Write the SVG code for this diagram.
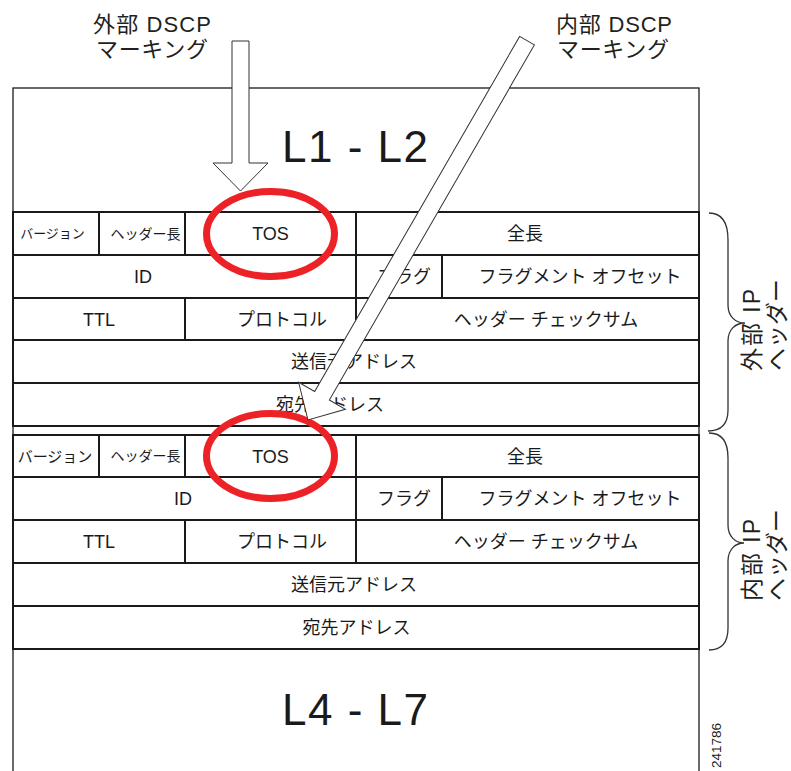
<svg xmlns="http://www.w3.org/2000/svg" width="791" height="771" viewBox="0 0 791 771">
<style>
text{font-family:"Liberation Sans","Noto Sans CJK JP",sans-serif;fill:#1a1a1a}
.c{text-anchor:middle;font-size:18px}
.s13{text-anchor:middle;font-size:13px}
.s14{text-anchor:middle;font-size:14px}
.s15{text-anchor:middle;font-size:15px}
.big{text-anchor:middle;font-size:44px}
.lbl{text-anchor:middle;font-size:22px;fill:#231f20}
.rot{font-size:23px;fill:#231f20}
.tbl{fill:none;stroke:#1a1a1a;stroke-width:2}
.box{fill:none;stroke:#1a1a1a;stroke-width:1.3}
.ring{fill:none;stroke:#ec2227;stroke-width:7}
.arrow{fill:#fff;stroke:#333;stroke-width:1}
.brace{fill:none;stroke:#333;stroke-width:1.3}
</style>

<g id="frame">
<rect class="box" x="13" y="88" width="686" height="700"/>
</g>

<g id="l1-l2">
<text class="big" x="355" y="162" textLength="146" lengthAdjust="spacing">L1 - L2</text>
</g>

<g id="outer-ip-header">
<rect class="tbl" x="13" y="212" width="686" height="214"/>
<path class="tbl" d="M13,255H699M13,298H699M13,340H699M13,383H699M99,212V255M185,212V255M356,212V298M442,255V298M185,298V340M356,298V340"/>
<text class="s13" x="52.5" y="238">バージョン</text>
<text class="s14" x="145.5" y="238.5">ヘッダー長</text>
<text class="c" x="270.5" y="240">TOS</text>
<text class="c" x="525" y="240">全長</text>
<text class="c" x="143" y="283">ID</text>
<text class="c" x="404" y="283">フラグ</text>
<text class="c" x="580" y="283">フラグメント オフセット</text>
<text class="c" x="99" y="325.5">TTL</text>
<text class="c" x="282" y="325.5">プロトコル</text>
<text class="c" x="546" y="325.5">ヘッダー チェックサム</text>
<text class="c" x="354" y="368">送信元アドレス</text>
<text class="c" x="330" y="411">宛先アドレス</text>
</g>

<g id="inner-ip-header">
<rect class="tbl" x="13" y="435" width="686" height="214"/>
<path class="tbl" d="M13,477H699M13,520H699M13,563H699M13,606H699M99,435V477M185,435V477M356,435V520M442,477V520M185,520V563M356,520V563"/>
<text class="s15" x="55" y="461.5">バージョン</text>
<text class="s14" x="145.5" y="461">ヘッダー長</text>
<text class="c" x="270.5" y="462.5">TOS</text>
<text class="c" x="525" y="462.5">全長</text>
<text class="c" x="183" y="505">ID</text>
<text class="c" x="404" y="505">フラグ</text>
<text class="c" x="580" y="505">フラグメント オフセット</text>
<text class="c" x="99" y="548">TTL</text>
<text class="c" x="282" y="548">プロトコル</text>
<text class="c" x="546" y="548">ヘッダー チェックサム</text>
<text class="c" x="354" y="591">送信元アドレス</text>
<text class="c" x="356.5" y="634">宛先アドレス</text>
</g>

<g id="l4-l7">
<text class="big" x="355" y="725" textLength="146" lengthAdjust="spacing">L4 - L7</text>
</g>

<g id="tos-highlights">
<ellipse class="ring" cx="270.5" cy="234" rx="64" ry="42.5"/>
<ellipse class="ring" cx="270.5" cy="456" rx="64" ry="42.5"/>
</g>

<g id="outer-dscp-label">
<text class="lbl" x="152" y="32" textLength="118" lengthAdjust="spacing">外部 DSCP</text>
<text class="lbl" x="152" y="57" textLength="112" lengthAdjust="spacing">マーキング</text>
</g>

<g id="inner-dscp-label">
<text class="lbl" x="614" y="32" textLength="116" lengthAdjust="spacing">内部 DSCP</text>
<text class="lbl" x="613" y="57" textLength="112" lengthAdjust="spacing">マーキング</text>
</g>

<g id="connectors">
<polygon class="arrow" points="232,41 249,41 249,163 268,163 240.5,191 213,163 232,163"/>
<polygon class="arrow" transform="translate(308,420) rotate(30)" points="-8.5,-438 8.5,-438 8.5,-28 27,-28 0,0 -27,-28 -8.5,-28"/>
<path class="brace" d="M709,213C722,213 728,222 728,240L728,305C728,316 735,323 745,323C735,323 728,330 728,341L728,410C728,424 722,431 708,431"/>
<path class="brace" d="M709,433C722,433 728,441 728,458L728,525C728,536 735,543 744,543C735,543 728,550 728,561L728,628C728,642 722,650 709,650"/>
</g>

<g id="outer-ip-label">
<text class="rot" transform="translate(760,371) rotate(-90)"><tspan x="0" y="0" textLength="82" lengthAdjust="spacing">外部 IP</tspan><tspan x="0" y="25">ヘッダー</tspan></text>
</g>

<g id="inner-ip-label">
<text class="rot" transform="translate(760,601) rotate(-90)"><tspan x="0" y="0" textLength="82" lengthAdjust="spacing">内部 IP</tspan><tspan x="0" y="25">ヘッダー</tspan></text>
</g>

<g id="figure-number">
<text transform="translate(721,768) rotate(-90)" style="font-size:13.5px">241786</text>
</g>
</svg>
